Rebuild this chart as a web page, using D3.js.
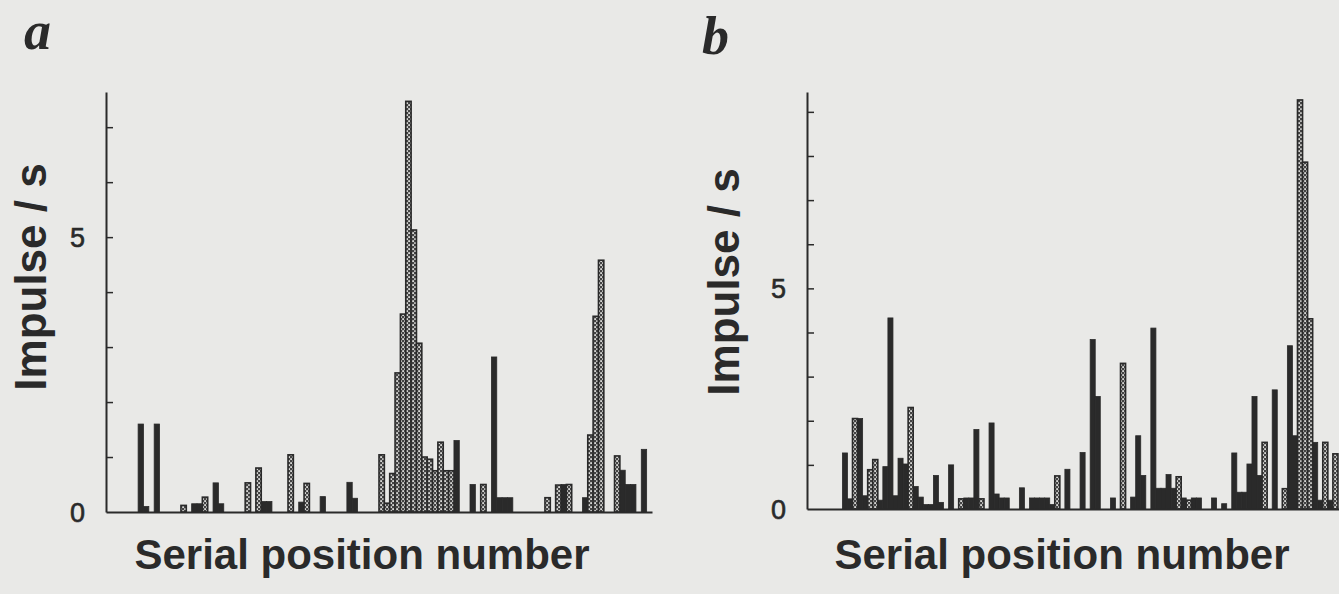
<!DOCTYPE html>
<html>
<head>
<meta charset="utf-8">
<script src="https://cdn.jsdelivr.net/npm/d3@7"></script>
<style>
  html, body { margin: 0; padding: 0; background: #e9e9e7; }
  svg { display: block; }
</style>
</head>
<body>
<svg id="chart" width="1339" height="594"></svg>
<script>
// Panel a — serial position, impulse rate, fill kind (s = solid, d = stippled)
const posA  = [6, 7, 9, 14, 16, 17, 18, 20, 21, 26, 28, 29, 30, 34, 36, 37, 40, 45, 46,
               51, 52, 53, 54, 55, 56, 57, 58, 59, 60, 61, 62, 63, 64, 65, 68, 70, 72, 73, 74, 75,
               82, 84, 85, 86, 89, 90, 91, 92, 95, 96, 97, 98, 100];
const rateA = [1.6, 0.1, 1.6, 0.12, 0.15, 0.15, 0.27, 0.53, 0.15, 0.53, 0.8, 0.19, 0.19, 1.04, 0.18, 0.52, 0.28, 0.54, 0.25,
               1.04, 0.16, 0.7, 2.53, 3.6, 7.47, 5.13, 3.07, 1.0, 0.96, 0.75, 1.27, 0.75, 0.75, 1.3, 0.5, 0.5, 2.82, 0.26, 0.26, 0.26,
               0.26, 0.49, 0.5, 0.5, 0.26, 1.4, 3.56, 4.58, 1.02, 0.76, 0.5, 0.5, 1.14];
const kindA = ["s","s","s","d","s","s","d","s","s","d","d","s","s","d","s","d","s","s","s",
               "d","d","d","d","d","d","d","d","d","d","d","d","d","d","s","s","d","s","s","s","s",
               "d","d","s","d","s","d","d","d","d","s","s","s","s"];

// Panel b
const posB  = [7, 8, 9, 10, 11, 12, 13, 14, 15, 16, 17, 18, 19, 20, 21, 22, 23, 24, 25, 26, 28,
               30, 31, 32, 33, 34, 36, 37, 38, 39, 42, 44, 45, 46, 47, 48, 49, 51, 54, 56, 57,
               60, 62, 64, 65, 66, 68, 69, 70, 71, 72, 73, 74, 75, 76, 77, 80, 82,
               84, 85, 86, 87, 88, 89, 90, 92, 94, 95, 96, 97, 98, 99, 100, 101, 102, 103, 104];
const rateB = [1.27, 0.23, 2.05, 2.05, 0.3, 0.89, 1.12, 0.2, 0.96, 4.33, 0.3, 1.15, 1.02, 2.3, 0.51, 0.27, 0.1, 0.1, 0.76, 0.15, 1.0,
               0.23, 0.25, 0.25, 1.8, 0.23, 1.95, 0.34, 0.25, 0.25, 0.48, 0.25, 0.25, 0.25, 0.25, 0.1, 0.75, 0.9, 1.28, 3.84, 2.55,
               0.25, 3.3, 0.27, 1.66, 0.76, 4.1, 0.47, 0.47, 0.78, 0.47, 0.73, 0.25, 0.2, 0.25, 0.25, 0.25, 0.12,
               1.27, 0.38, 0.38, 1.02, 2.55, 0.76, 1.51, 2.7, 0.46, 3.7, 1.66, 9.27, 7.86, 4.31, 1.51, 0.2, 1.51, 0.2, 1.25];
const kindB = ["s","s","d","s","s","d","d","s","s","s","s","s","s","d","s","s","s","s","s","s","s",
               "d","s","s","s","d","s","s","s","s","s","s","s","s","s","s","d","s","s","s","s",
               "s","d","s","s","s","s","s","s","s","s","d","s","d","s","s","s","s",
               "s","s","s","s","s","s","d","s","d","s","s","d","d","d","s","s","d","s","d"];

const panels = [
  { label: "a", pos: posA, rate: rateA, kind: kindA, slots: 102,
    x0: 106, x1: 652, y0: 512, yTop: 92, yMax: 7.64, ticks: d3.range(1, 8),
    labelX: 24, labelY: 49, yTitleX: 46, yTitleY: 277, xTitleX: 362 },
  { label: "b", pos: posB, rate: rateB, kind: kindB, slots: 106,
    x0: 807, x1: 1343, y0: 509, yTop: 92, yMax: 9.45, ticks: d3.range(1, 10),
    labelX: 702, labelY: 54, yTitleX: 739, yTitleY: 282, xTitleX: 1062 }
];

const svg = d3.select("#chart");
svg.append("rect").attr("width", 1339).attr("height", 594).attr("fill", "#e9e9e7");

// halftone stipple used for the dotted bars
const pat = svg.append("defs").append("pattern")
  .attr("id", "stipple")
  .attr("width", 4).attr("height", 4)
  .attr("patternUnits", "userSpaceOnUse");
pat.append("rect").attr("width", 4).attr("height", 4).attr("fill", "#444");
pat.append("rect").attr("x", 0.2).attr("y", 0.2).attr("width", 1.8).attr("height", 1.8).attr("fill", "#d8d8d6");
pat.append("rect").attr("x", 2.2).attr("y", 2.2).attr("width", 1.8).attr("height", 1.8).attr("fill", "#d8d8d6");

const ink = "#2a2a2a";

panels.forEach((p) => {
  const x = d3.scaleLinear().domain([0, p.slots]).range([p.x0, p.x1]);
  const y = d3.scaleLinear().domain([0, p.yMax]).range([p.y0, p.yTop]);
  const g = svg.append("g");

  const data = p.pos.map((d, i) => ({ pos: d, rate: p.rate[i], kind: p.kind[i] }));

  // solid bars first, stippled on top so their outlines stay visible
  g.append("g")
    .selectAll("rect")
    .data(data.filter((d) => d.kind === "s"))
    .join("rect")
    .attr("x", (d) => x(d.pos))
    .attr("width", (d) => x(d.pos + 1) - x(d.pos))
    .attr("y", (d) => y(d.rate))
    .attr("height", (d) => y(0) - y(d.rate))
    .attr("fill", ink)
    .attr("stroke", ink)
    .attr("stroke-width", 0.8);

  g.append("g")
    .selectAll("rect")
    .data(data.filter((d) => d.kind === "d"))
    .join("rect")
    .attr("x", (d) => x(d.pos))
    .attr("width", (d) => x(d.pos + 1) - x(d.pos))
    .attr("y", (d) => y(d.rate))
    .attr("height", (d) => y(0) - y(d.rate))
    .attr("fill", "url(#stipple)")
    .attr("stroke", ink)
    .attr("stroke-width", 1.6);

  // y axis: ticks pointing inward, only 0 and 5 labelled
  const yAxis = g.append("g")
    .attr("transform", `translate(${p.x0},0)`)
    .call(d3.axisLeft(y).tickValues(p.ticks).tickSize(-7).tickSizeOuter(0).tickFormat(""));
  yAxis.select(".domain").attr("stroke", ink).attr("stroke-width", 2);
  yAxis.selectAll(".tick line").attr("stroke", ink).attr("stroke-width", 1.5);

  const xAxis = g.append("g")
    .attr("transform", `translate(0,${p.y0})`)
    .call(d3.axisBottom(x).tickValues([]).tickSizeOuter(0));
  xAxis.select(".domain").attr("stroke", ink).attr("stroke-width", 2.2);

  g.selectAll(".num")
    .data([0, 5])
    .join("text")
    .attr("class", "num")
    .attr("x", p.x0 - 21)
    .attr("y", (d) => y(d))
    .attr("dy", "0.36em")
    .attr("text-anchor", "end")
    .attr("font-family", "Liberation Sans, Arial, sans-serif")
    .attr("font-size", 27)
    .attr("fill", ink)
    .attr("stroke", ink)
    .attr("stroke-width", 0.6)
    .text((d) => d);

  g.append("text")
    .attr("x", p.labelX)
    .attr("y", p.labelY)
    .attr("font-family", "Liberation Serif, Times New Roman, serif")
    .attr("font-style", "italic")
    .attr("font-weight", "bold")
    .attr("font-size", 54)
    .attr("fill", ink)
    .text(p.label);

  g.append("text")
    .attr("transform", `translate(${p.yTitleX},${p.yTitleY}) rotate(-90)`)
    .attr("text-anchor", "middle")
    .attr("font-family", "Liberation Sans, Arial, sans-serif")
    .attr("font-weight", "bold")
    .attr("font-size", 44)
    .attr("fill", ink)
    .text("Impulse / s");

  g.append("text")
    .attr("x", p.xTitleX)
    .attr("y", 569)
    .attr("text-anchor", "middle")
    .attr("font-family", "Liberation Sans, Arial, sans-serif")
    .attr("font-weight", "bold")
    .attr("font-size", 42)
    .attr("fill", ink)
    .text("Serial position number");
});
</script>
</body>
</html>
